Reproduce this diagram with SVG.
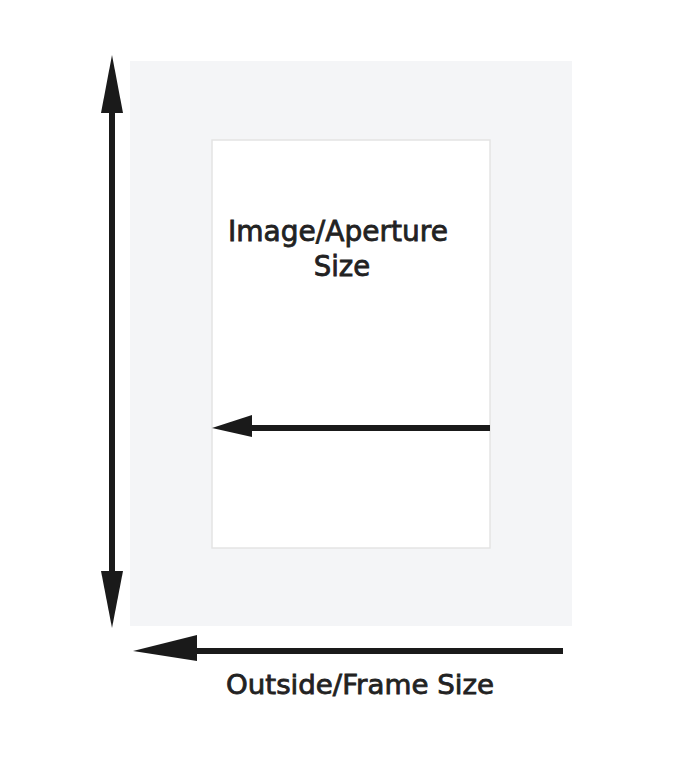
<svg xmlns="http://www.w3.org/2000/svg" width="674" height="758" viewBox="0 0 674 758">
<style>
.lbl{font-family:"DejaVu Sans","Liberation Sans",sans-serif;fill:#222;stroke:#222;stroke-width:0.8;text-anchor:middle}
.arr{fill:#1a1a1a}
</style>
<rect width="674" height="758" fill="#fff"/>
<g id="frame"><rect x="130" y="61" width="442" height="565" fill="#f4f5f7"/></g>
<g id="aperture">
<rect x="212" y="140" width="278" height="408" fill="#fff" stroke="#e4e4e4" stroke-width="1.5"/>
<text class="lbl" x="338" y="241" font-size="27.5" textLength="220" lengthAdjust="spacingAndGlyphs">Image/Aperture</text>
<text class="lbl" x="342" y="276" font-size="27.5">Size</text>
</g>
<g id="outside-label">
<text class="lbl" x="360" y="694" font-size="26.5" textLength="268" lengthAdjust="spacingAndGlyphs">Outside/Frame Size</text>
</g>
<g id="connectors">
<rect class="arr" x="109" y="108" width="6" height="468"/>
<polygon class="arr" points="112,55 123,113 101,113"/>
<polygon class="arr" points="112,628 123,571 101,571"/>
<rect class="arr" x="192" y="648" width="371" height="6"/>
<polygon class="arr" points="133,651 197,635 197,661"/>
<rect class="arr" x="248" y="425" width="242" height="6"/>
<polygon class="arr" points="212,428 252,415 252,437"/>
</g>
</svg>
